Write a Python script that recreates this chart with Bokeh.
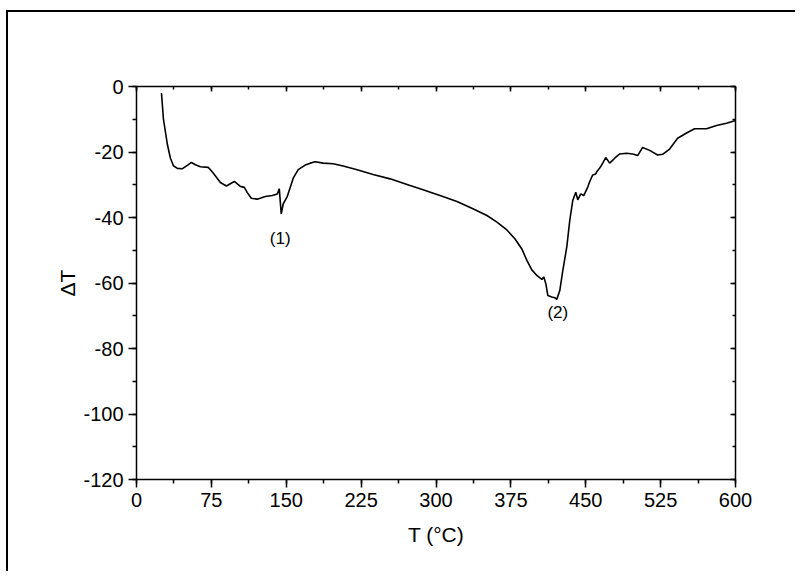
from bokeh.plotting import figure
from bokeh.models import LinearAxis, Range1d, SingleIntervalTicker, CustomJSTickFormatter
from bokeh.embed import file_html
from bokeh.resources import INLINE
from bokeh.core.properties import value

# ---- data ----
T = [25, 27, 31, 34, 37, 41, 46, 51, 55, 59, 64, 72, 77, 84, 90, 94, 98, 104, 108, 111,
     115, 121, 129, 136, 141, 143, 145, 147, 151, 157, 162, 169, 174, 179, 187, 197, 207,
     221, 237, 254, 271, 287, 304, 321, 337, 351, 361, 371, 379, 386, 391, 396, 401, 406,
     408, 410, 412, 416, 419, 421, 424, 427, 431, 434, 437, 440, 442, 445, 448, 452, 454,
     457, 460, 461, 464, 467, 470, 474, 479, 484, 491, 497, 502, 507, 514, 522, 527, 534,
     542, 551, 559, 571, 581, 591, 600]
dT = [-2, -10, -17.8, -21.9, -24.2, -25.0, -25.1, -24.1, -23.2, -23.9, -24.5, -24.7, -26.5,
      -29.3, -30.4, -29.7, -29.0, -30.5, -30.8, -32.4, -34.1, -34.4, -33.6, -33.3, -32.8,
      -31.2, -38.9, -35.8, -33.6, -28.0, -25.4, -24.0, -23.4, -23.0, -23.4, -23.6, -24.3,
      -25.4, -26.9, -28.2, -29.9, -31.5, -33.3, -35.1, -37.3, -39.4, -41.4, -43.8, -46.5,
      -49.6, -53.1, -56.0, -57.7, -58.9, -58.2, -60.2, -63.8, -64.3, -64.5, -65.0, -62.3,
      -56.2, -49.0, -40.9, -34.8, -32.3, -34.6, -32.8, -33.3, -30.7, -29.0, -27.0, -26.7,
      -26.0, -24.9, -23.4, -21.7, -23.4, -21.9, -20.6, -20.4, -20.6, -21.1, -18.6, -19.5,
      -20.9, -20.7, -19.1, -15.8, -14.2, -12.9, -12.9, -11.9, -11.2, -10.4]

x_tick_step = 75
y_tick_step = 20
x_limits = (0, 600)
y_limits = (-120, 0)

peak_labels = ["(1)", "(2)"]
peak_T = [144, 422]
peak_dT = [-46.4, -69.0]

FONT = "Liberation Sans"

p = figure(frame_width=599, frame_height=393,
           x_range=Range1d(*x_limits), y_range=Range1d(*y_limits),
           output_backend="svg", toolbar_location=None,
           x_axis_location=None, y_axis_location=None,
           min_border_left=128, min_border_top=74, min_border_right=60, min_border_bottom=92)
p.grid.visible = False
p.outline_line_color = None
p.background_fill_color = "white"
p.border_fill_color = "white"
p.styles = {"border-top": "2px solid black", "border-left": "2px solid black",
            "margin-top": "10px", "margin-left": "6px"}

blank = CustomJSTickFormatter(code="return ''")
plain = CustomJSTickFormatter(code="return tick.toString()")


def make_axis(loc, labels):
    step = x_tick_step if loc in ("below", "above") else y_tick_step
    ax = LinearAxis(ticker=SingleIntervalTicker(interval=step, num_minor_ticks=2))
    ax.axis_line_width = 1.5
    ax.major_tick_line_width = 1.5
    ax.minor_tick_line_width = 1.5
    if labels:
        ax.major_tick_out = 8
        ax.major_tick_in = 0
        ax.minor_tick_out = 4
        ax.minor_tick_in = 0
        ax.formatter = plain
        ax.major_label_text_font = FONT
        ax.major_label_text_font_size = "20px"
        ax.major_label_text_color = "black"
        ax.axis_label_text_font = FONT
        ax.axis_label_text_font_size = "21px"
        ax.axis_label_text_font_style = "normal"
        ax.axis_label_text_color = "black"
    else:
        ax.major_tick_out = 0
        ax.major_tick_in = 5
        ax.minor_tick_out = 0
        ax.minor_tick_in = 3
        ax.formatter = blank
    p.add_layout(ax, loc)
    return ax


xb = make_axis("below", True)
xb.axis_label = "T (\u00b0C)"
xb.axis_label_standoff = 13
yl = make_axis("left", True)
yl.axis_label = "\u0394T"
yl.axis_label_standoff = 1
make_axis("above", False)
make_axis("right", False)

p.line(T, dT, line_color="black", line_width=1.6)

p.text(x=peak_T, y=peak_dT, text=peak_labels, text_font=value(FONT),
       text_font_size="17px", text_align="center", text_baseline="middle",
       text_color="black")

open("out.html", "w").write(file_html(p, INLINE))
